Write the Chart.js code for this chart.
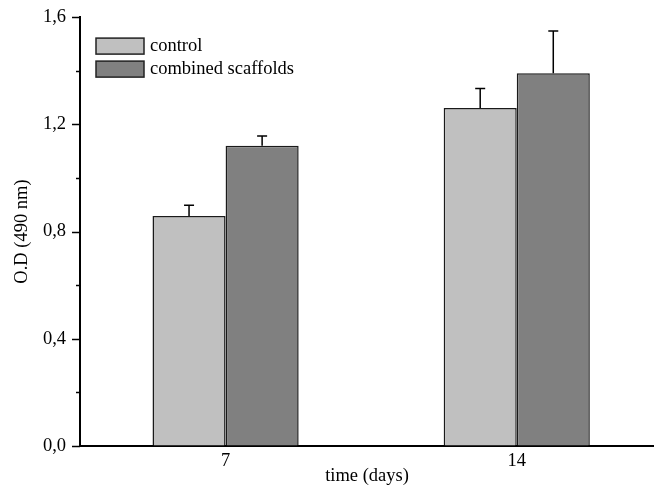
<!DOCTYPE html>
<html>
<head>
<meta charset="utf-8">
<script src="https://cdn.jsdelivr.net/npm/chart.js@4/dist/chart.umd.min.js"></script>
<style>
  html, body { margin: 0; padding: 0; background: #fff; overflow: hidden; }
  #wrap { width: 654px; height: 487px; }
</style>
</head>
<body>
<div id="wrap"><canvas id="c" width="654" height="487"></canvas></div>
<script>
// Cell viability (O.D at 490 nm) after 7 and 14 days
const days = [7, 14];
const seriesNames = ['control', 'combined scaffolds'];
const controlOD = [0.858, 1.261];
const controlSD = [0.040, 0.073];
const combinedOD = [1.120, 1.391];
const combinedSD = [0.036, 0.157];
const yTicks = [0, 0.2, 0.4, 0.6, 0.8, 1.0, 1.2, 1.4, 1.6];

const FONT = 'Liberation Serif, "Times New Roman", serif';
const FS = 18.5;

// Upward-only error bars with a short cap
const errorBars = {
  id: 'errorBars',
  afterDatasetsDraw(chart) {
    const ctx = chart.ctx;
    const y = chart.scales.y;
    ctx.save();
    ctx.strokeStyle = '#000';
    ctx.lineWidth = 1.5;
    chart.data.datasets.forEach((ds, di) => {
      const meta = chart.getDatasetMeta(di);
      meta.data.forEach((bar, i) => {
        const v = ds.data[i].y;
        const e = ds.errors[i];
        const top = y.getPixelForValue(v);
        const cap = y.getPixelForValue(v + e);
        ctx.beginPath();
        ctx.moveTo(bar.x, top);
        ctx.lineTo(bar.x, cap);
        ctx.moveTo(bar.x - 5, cap);
        ctx.lineTo(bar.x + 5, cap);
        ctx.stroke();
      });
    });
    ctx.restore();
  }
};

// Outward tick marks on the value axis: long at labelled values, short between
const yTickMarks = {
  id: 'yTickMarks',
  afterDraw(chart) {
    const ctx = chart.ctx;
    const y = chart.scales.y;
    const x0 = chart.chartArea.left;
    ctx.save();
    ctx.strokeStyle = '#000';
    ctx.lineWidth = 1.5;
    y.ticks.forEach((t, i) => {
      const major = i % 2 === 0;
      const py = Math.round(y.getPixelForValue(t.value)) + 0.5;
      ctx.beginPath();
      ctx.moveTo(x0, py);
      ctx.lineTo(x0 - (major ? 8 : 4), py);
      ctx.stroke();
    });
    ctx.restore();
  }
};

// Legend boxes inside the plot, top-left
const innerLegend = {
  id: 'innerLegend',
  afterDraw(chart) {
    const ctx = chart.ctx;
    const a = chart.chartArea;
    ctx.save();
    ctx.font = FS + 'px ' + FONT;
    ctx.textBaseline = 'middle';
    chart.data.datasets.forEach((ds, i) => {
      const bx = a.left + 16;
      const by = a.top + 21 + i * 23;
      ctx.fillStyle = ds.backgroundColor;
      ctx.fillRect(bx, by, 48, 16);
      ctx.strokeStyle = '#222';
      ctx.lineWidth = 1.5;
      ctx.strokeRect(bx, by, 48, 16);
      ctx.fillStyle = '#000';
      ctx.fillText(ds.label, bx + 54, by + 8);
    });
    ctx.restore();
  }
};

new Chart(document.getElementById('c'), {
  type: 'bar',
  data: {
    datasets: [
      {
        label: seriesNames[0],
        data: days.map((d, i) => ({ x: d, y: controlOD[i] })),
        errors: controlSD,
        backgroundColor: '#c0c0c0',
        borderColor: '#1a1a1a',
        borderWidth: 1.5,
        borderSkipped: 'bottom',
        barPercentage: 1.0,
        categoryPercentage: 0.502
      },
      {
        label: seriesNames[1],
        data: days.map((d, i) => ({ x: d, y: combinedOD[i] })),
        errors: combinedSD,
        backgroundColor: '#808080',
        borderColor: '#1a1a1a',
        borderWidth: 1.5,
        borderSkipped: 'bottom',
        barPercentage: 1.0,
        categoryPercentage: 0.502
      }
    ]
  },
  options: {
    responsive: false,
    animation: false,
    devicePixelRatio: 1,
    layout: { padding: { top: 17, right: 0, bottom: 0, left: 0 } },
    plugins: {
      legend: { display: false },
      tooltip: { enabled: false }
    },
    scales: {
      x: {
        type: 'linear',
        offset: false,
        min: 3.5,
        max: 17.3,
        afterBuildTicks(scale) {
          scale.ticks = days.map(d => ({ value: d }));
        },
        afterFit(scale) { scale.height = 41; },
        grid: { display: true, drawOnChartArea: false, drawTicks: false },
        border: { display: true, color: '#000', width: 2 },
        ticks: {
          padding: 4,
          color: '#000',
          font: { family: FONT, size: FS },
          callback: v => String(v)
        },
        title: {
          display: true,
          text: 'time (days)',
          color: '#000',
          font: { family: FONT, size: FS },
          padding: { top: 0, bottom: 0 }
        }
      },
      y: {
        min: 0,
        max: 1.6,
        afterBuildTicks(scale) {
          scale.ticks = yTicks.map(v => ({ value: v }));
        },
        afterFit(scale) { scale.width = 80; },
        grid: {
          display: true, drawOnChartArea: false, drawTicks: true,
          tickLength: 8, tickColor: 'rgba(0,0,0,0)'
        },
        border: { display: true, color: '#000', width: 2 },
        ticks: {
          padding: 6,
          color: '#000',
          font: { family: FONT, size: FS },
          callback: (v, i) => (i % 2 === 0 ? v.toFixed(1).replace('.', ',') : '')
        },
        title: {
          display: true,
          text: 'O.D (490 nm)',
          color: '#000',
          font: { family: FONT, size: FS },
          padding: { top: 11, bottom: 0 }
        }
      }
    }
  },
  plugins: [errorBars, yTickMarks, innerLegend]
});
</script>
</body>
</html>
